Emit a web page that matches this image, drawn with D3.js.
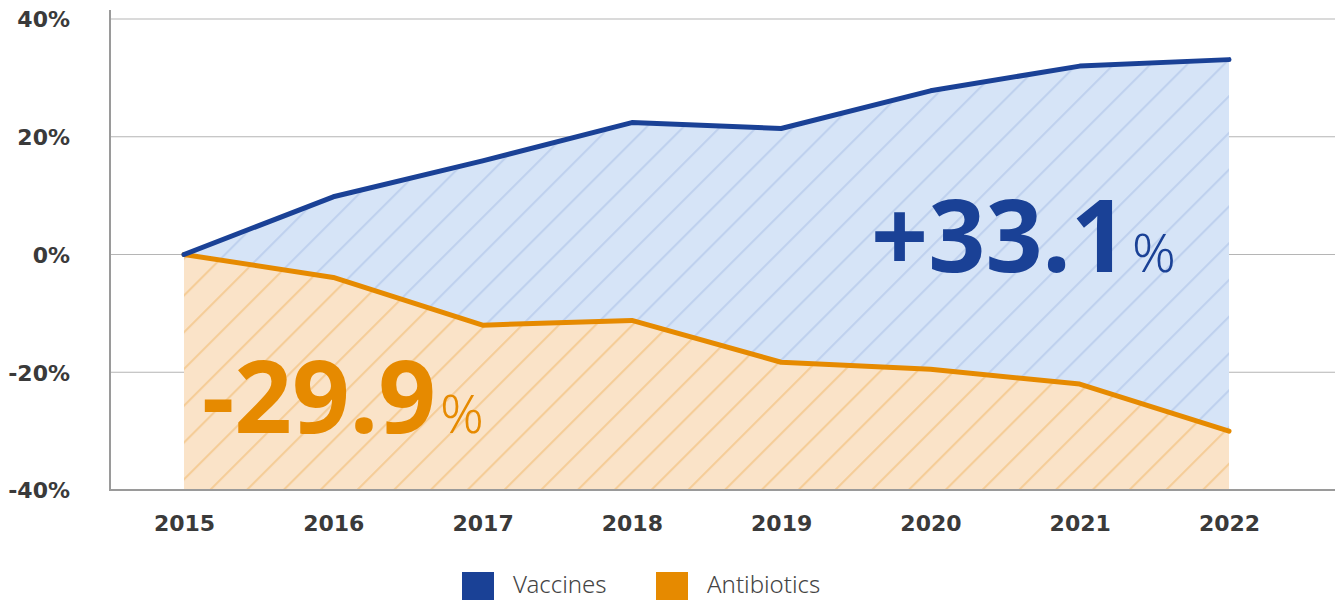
<!DOCTYPE html>
<meta charset="utf-8">
<style>
  body { margin: 0; background: #fff; }
  .tick text, .yearLabel { font-family: "DejaVu Sans", sans-serif; font-weight: bold; fill: #3a3a3a; }
  .bigLabel { font-family: "Noto Sans", sans-serif; font-weight: bold; }
  .legendText { font-family: "Noto Sans", sans-serif; font-weight: 300; fill: #444; }
</style>
<svg id="chart" width="1335" height="600"></svg>
<script src="https://cdn.jsdelivr.net/npm/d3@7"></script>
<script>

const years = [2015, 2016, 2017, 2018, 2019, 2020, 2021, 2022]
const vaccines = [0, 9.8, 15.9, 22.4, 21.4, 27.8, 32.0, 33.1]
const antibiotics = [0, -3.9, -12.0, -11.2, -18.3, -19.5, -22.0, -30.0]
const yTicks = [-40, -20, 0, 20, 40]
const seriesNames = ["Vaccines", "Antibiotics"]
const seriesColors = ["#1a4196", "#e68a00"]

const svg = d3.select("#chart")

const x = d3.scaleLinear()
  .domain([2015, 2022])
  .range([184, 1229])

const y = d3.scaleLinear()
  .domain([-40, 40])
  .range([490, 19])

const plotLeft = 110, plotRight = 1335

// hatch patterns
const defs = svg.append("defs")
function hatch(id, bg, lineColor) {
  const p = defs.append("pattern")
    .attr("id", id)
    .attr("patternUnits", "userSpaceOnUse")
    .attr("width", 26)
    .attr("height", 26)
    .attr("patternTransform", "rotate(45)")
  p.append("rect").attr("width", 26).attr("height", 26).attr("fill", bg)
  p.append("line")
    .attr("x1", 1).attr("x2", 1).attr("y1", 0).attr("y2", 26)
    .attr("stroke", lineColor).attr("stroke-width", 2.2)
}
hatch("hatchBlue", "#d6e4f7", "#bfd1ee")
hatch("hatchOrange", "#fae3c8", "#f5cd98")

// gridlines
svg.append("g")
  .selectAll("line")
  .data(yTicks.filter(d => d !== -40))
  .join("line")
    .attr("x1", plotLeft)
    .attr("x2", plotRight)
    .attr("y1", d => y(d))
    .attr("y2", d => y(d))
    .attr("stroke", "#b5b5b5")
    .attr("stroke-width", 1.2)

const data = years.map((yr, i) => ({year: yr, v: vaccines[i], a: antibiotics[i]}))

// areas
svg.append("path")
  .attr("fill", "url(#hatchOrange)")
  .attr("d", d3.area().x(d => x(d.year)).y0(y(-40)).y1(d => y(d.a))(data))

svg.append("path")
  .attr("fill", "url(#hatchBlue)")
  .attr("d", d3.area().x(d => x(d.year)).y0(d => y(d.a)).y1(d => y(d.v))(data))

// lines
svg.append("path")
  .attr("fill", "none")
  .attr("stroke", seriesColors[1])
  .attr("stroke-width", 5)
  .attr("stroke-linejoin", "round")
  .attr("stroke-linecap", "round")
  .attr("d", d3.line().x(d => x(d.year)).y(d => y(d.a))(data))

svg.append("path")
  .attr("fill", "none")
  .attr("stroke", seriesColors[0])
  .attr("stroke-width", 5)
  .attr("stroke-linejoin", "round")
  .attr("stroke-linecap", "round")
  .attr("d", d3.line().x(d => x(d.year)).y(d => y(d.v))(data))

// axes
const yAxis = svg.append("g")
  .attr("transform", `translate(${plotLeft},0)`)
  .call(d3.axisLeft(y).tickValues(yTicks).tickFormat(d => d + "%").tickSize(0).tickPadding(40))
yAxis.select(".domain").remove()
yAxis.selectAll(".tick text").attr("font-size", 22).attr("dy", "0.36em")

svg.append("line")
  .attr("x1", plotLeft).attr("x2", plotLeft)
  .attr("y1", 10).attr("y2", y(-40))
  .attr("stroke", "#9a9a9a").attr("stroke-width", 2)
svg.append("line")
  .attr("x1", plotLeft - 1).attr("x2", plotRight)
  .attr("y1", y(-40)).attr("y2", y(-40))
  .attr("stroke", "#9a9a9a").attr("stroke-width", 2)

const xAxis = svg.append("g")
  .attr("transform", `translate(0,${y(-40)})`)
  .call(d3.axisBottom(x).tickValues(years).tickFormat(d3.format("d")).tickSize(0).tickPadding(25))
xAxis.select(".domain").remove()
xAxis.selectAll(".tick text").attr("font-size", 22)

// big annotations
const last = data[data.length - 1]
const vTxt = svg.append("text")
  .attr("class", "bigLabel")
  .attr("x", 871).attr("y", 272)
  .attr("fill", seriesColors[0])
vTxt.append("tspan").attr("font-size", 100).text("+" + last.v.toFixed(1))
vTxt.append("tspan").attr("font-size", 54).attr("font-weight", 300).attr("dx", 4).text("%")

const aTxt = svg.append("text")
  .attr("class", "bigLabel")
  .attr("x", 202).attr("y", 433)
  .attr("fill", seriesColors[1])
aTxt.append("tspan").attr("font-size", 101).text("-29.9")
aTxt.append("tspan").attr("font-size", 54).attr("font-weight", 300).attr("dx", 4).text("%")

// legend
const legendX = [462, 656]
const legend = svg.append("g")
  .selectAll("g")
  .data(seriesNames)
  .join("g")
    .attr("transform", (d, i) => `translate(${legendX[i]},572)`)
legend.append("rect")
  .attr("width", 32).attr("height", 32)
  .attr("fill", (d, i) => seriesColors[i])
legend.append("text")
  .attr("class", "legendText")
  .attr("x", 51).attr("y", 21)
  .attr("font-size", 24)
  .text(d => d)

</script>
